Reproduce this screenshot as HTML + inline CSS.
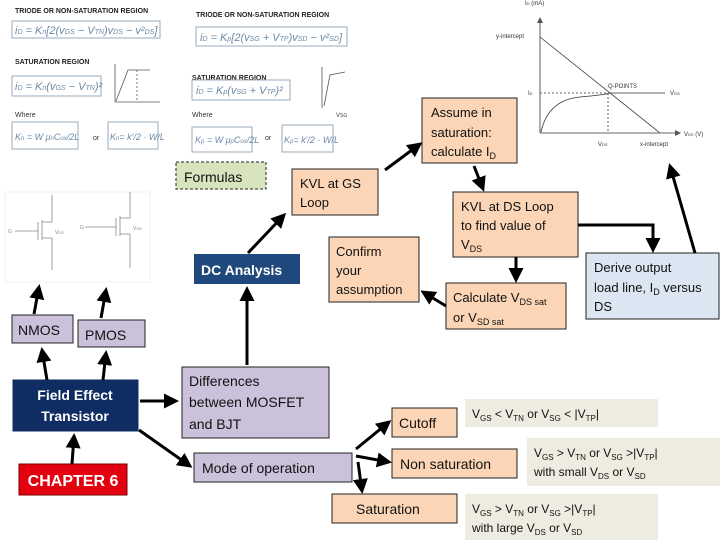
<!DOCTYPE html>
<html><head><meta charset="utf-8"><style>
html,body{margin:0;padding:0;background:#fff}
svg text{font-family:"Liberation Sans",sans-serif}
.c{font-family:"DejaVu Sans","Liberation Sans",sans-serif}
</style></head><body>
<svg width="720" height="540" viewBox="0 0 720 540" xmlns="http://www.w3.org/2000/svg">
<defs>
<marker id="a" markerWidth="5" markerHeight="5" refX="4" refY="2.5" orient="auto" markerUnits="strokeWidth"><path d="M0,0 L5,2.5 L0,5 z" fill="#000"/></marker>
<marker id="s" markerWidth="6" markerHeight="6" refX="5" refY="3" orient="auto" markerUnits="userSpaceOnUse"><path d="M0,0 L6,3 L0,6 z" fill="#555"/></marker>
</defs>
<!-- top-left formula images -->
<g font-size="7" font-weight="bold" fill="#222">
<text x="15" y="13">TRIODE OR NON-SATURATION REGION</text>
<text x="196" y="17">TRIODE OR NON-SATURATION REGION</text>
<text x="15" y="64">SATURATION REGION</text>
<text x="192" y="80">SATURATION REGION</text>
</g>
<g font-size="7" fill="#333"><text x="15" y="117">Where</text><text x="192" y="117">Where</text><text x="93" y="140">or</text><text x="265" y="140">or</text></g>
<g fill="#fff" stroke="#9ab" stroke-width="1">
<rect x="12" y="21" width="148" height="17"/><rect x="196" y="27" width="151" height="19"/>
<rect x="12" y="76" width="89" height="20"/><rect x="192" y="80" width="98" height="20"/>
<rect x="12" y="122" width="66" height="27"/><rect x="108" y="122" width="50" height="27"/>
<rect x="192" y="127" width="60" height="25"/><rect x="282" y="125" width="51" height="27"/>
</g>
<g font-family="Liberation Serif" font-style="italic" fill="#6a8aa8" font-size="11">
<text x="15" y="34">i<tspan font-size="7">D</tspan> = K<tspan font-size="7">n</tspan>[2(v<tspan font-size="7">GS</tspan> − V<tspan font-size="7">TN</tspan>)v<tspan font-size="7">DS</tspan> − v²<tspan font-size="7">DS</tspan>]</text>
<text x="200" y="41">i<tspan font-size="7">D</tspan> = K<tspan font-size="7">p</tspan>[2(v<tspan font-size="7">SG</tspan> + V<tspan font-size="7">TP</tspan>)v<tspan font-size="7">SD</tspan> − v²<tspan font-size="7">SD</tspan>]</text>
<text x="15" y="90">i<tspan font-size="7">D</tspan> = K<tspan font-size="7">n</tspan>(v<tspan font-size="7">GS</tspan> − V<tspan font-size="7">TN</tspan>)²</text>
<text x="196" y="94">i<tspan font-size="7">D</tspan> = K<tspan font-size="7">p</tspan>(v<tspan font-size="7">SG</tspan> + V<tspan font-size="7">TP</tspan>)²</text>
<text x="15" y="140" font-size="9">K<tspan font-size="6">n</tspan> = W μ<tspan font-size="6">n</tspan>C<tspan font-size="6">ox</tspan>/2L</text>
<text x="110" y="140" font-size="9">K<tspan font-size="6">n</tspan>= k'/2 · W/L</text>
<text x="195" y="143" font-size="9">K<tspan font-size="6">p</tspan> = W μ<tspan font-size="6">p</tspan>C<tspan font-size="6">ox</tspan>/2L</text>
<text x="284" y="143" font-size="9">K<tspan font-size="6">p</tspan>= k'/2 · W/L</text>
</g>
<g stroke="#555" fill="none" stroke-width="0.8">
<path d="M115,102 L115,64 M115,102 L160,102 M116,101 L128,70 L150,70"/><path d="M137,70 L137,102" stroke-dasharray="2,2"/>
<path d="M322,108 L322,67 M324,106 L330,75 L345,72"/>
</g>
<text x="336" y="117" font-size="6" fill="#444">V<tspan font-size="5">SG</tspan></text>
<!-- right graph -->
<g stroke="#333" fill="none" stroke-width="0.8">
<line x1="540" y1="133" x2="540" y2="18" marker-end="url(#s)"/>
<line x1="540" y1="133" x2="680" y2="133" marker-end="url(#s)"/>
<line x1="540" y1="37" x2="660" y2="133"/>
<path d="M540,93 L608,93 M608,93 L608,133" stroke-dasharray="2,2"/>
<path d="M541,132 Q548,100 580,97 T608,93 L665,93"/>
</g>
<g font-size="6" fill="#333"><text x="525" y="5">I<tspan font-size="4">D</tspan> (mA)</text><text x="496" y="38">y-intercept</text><text x="528" y="95">I<tspan font-size="4">D</tspan></text><text x="608" y="88">Q-POINTS</text><text x="670" y="95">V<tspan font-size="4">GS</tspan></text><text x="598" y="146">V<tspan font-size="4">DS</tspan></text><text x="640" y="146">x-intercept</text><text x="684" y="136">V<tspan font-size="4">DS</tspan> (V)</text></g>
<!-- MOSFET circuits -->
<g stroke="#888" fill="none" stroke-width="0.8">
<rect x="5" y="192" width="145" height="90" stroke="#eee"/>
<path d="M52,195 L52,222 L42,222 M42,220 L42,240 M38,222 L38,240 M15,231 L38,231 M42,238 L52,238 L52,270"/>
<path d="M130,192 L130,218 L120,218 M120,216 L120,236 M116,218 L116,236 M85,227 L116,227 M120,234 L130,234 L130,268"/>
</g>
<g font-size="5" fill="#888"><text x="8" y="233">G</text><text x="80" y="229">G</text><text x="55" y="234">V<tspan font-size="4">DS</tspan></text><text x="133" y="230">V<tspan font-size="4">SD</tspan></text></g>
<!-- boxes -->
<g font-family="Liberation Sans" stroke="#222" stroke-width="1">
<rect x="422" y="98" width="95" height="65" fill="#fbd5b5"/>
<rect x="176" y="162" width="90" height="27" fill="#d7e4bd" stroke-dasharray="3,2"/>
<rect x="292" y="169" width="86" height="46" fill="#fbd5b5"/>
<rect x="453" y="192" width="125" height="65" fill="#fbd5b5"/>
<rect x="329" y="237" width="90" height="65" fill="#fbd5b5"/>
<rect x="446" y="283" width="120" height="46" fill="#fbd5b5"/>
<rect x="586" y="253" width="133" height="66" fill="#dce6f2"/>
<rect x="194" y="254" width="106" height="30" fill="#1f497d" stroke="none"/>
<rect x="12" y="315" width="61" height="28" fill="#ccc1da"/>
<rect x="78" y="320" width="67" height="27" fill="#ccc1da"/>
<rect x="13" y="380" width="125" height="51" fill="#0f2c63" stroke="#0f2c63"/>
<rect x="19" y="464" width="108" height="31" fill="#e3000f" stroke="#7a0000"/>
<rect x="182" y="367" width="147" height="71" fill="#ccc1da"/>
<rect x="194" y="453" width="158" height="29" fill="#ccc1da"/>
<rect x="392" y="408" width="65" height="29" fill="#fbd5b5"/>
<rect x="392" y="449" width="125" height="29" fill="#fbd5b5"/>
<rect x="332" y="494" width="125" height="29" fill="#fbd5b5"/>
<rect x="465" y="399" width="193" height="28" fill="#eeece1" stroke="none"/>
<rect x="527" y="438" width="193" height="48" fill="#eeece1" stroke="none"/>
<rect x="465" y="494" width="193" height="46" fill="#eeece1" stroke="none"/>
</g>
<g class="c" font-size="13" fill="#111">
<text x="431" y="117">Assume in</text><text x="431" y="137">saturation:</text><text x="431" y="156">calculate I<tspan font-size="9" dy="3">D</tspan></text>
<text x="184" y="182" font-size="14">Formulas</text>
<text x="300" y="188">KVL at GS</text><text x="300" y="207">Loop</text>
<text x="461" y="211">KVL at DS Loop</text><text x="461" y="230">to find value of</text><text x="461" y="249">V<tspan font-size="9" dy="3">DS</tspan></text>
<text x="336" y="256">Confirm</text><text x="336" y="275">your</text><text x="336" y="294">assumption</text>
<text x="453" y="302">Calculate V<tspan font-size="9" dy="3">DS sat</tspan></text><text x="453" y="322">or V<tspan font-size="9" dy="3">SD sat</tspan></text>
<text x="594" y="272">Derive output</text><text x="594" y="292">load line, I<tspan font-size="9" dy="3">D</tspan><tspan dy="-3"> versus</tspan></text><text x="594" y="311">DS</text>
<text x="201" y="275" font-weight="bold" fill="#fff" font-size="14">DC Analysis</text>
<text x="18" y="335" font-size="14">NMOS</text><text x="85" y="340" font-size="14">PMOS</text>
<text x="75" y="400" text-anchor="middle" font-weight="bold" fill="#fff" font-size="14">Field Effect</text>
<text x="75" y="421" text-anchor="middle" font-weight="bold" fill="#fff" font-size="14">Transistor</text>
<text x="73" y="486" text-anchor="middle" font-weight="bold" fill="#fff" font-size="16">CHAPTER 6</text>
<text x="189" y="386" font-size="14">Differences</text><text x="189" y="407" font-size="14">between MOSFET</text><text x="189" y="429" font-size="14">and BJT</text>
<text x="202" y="473" font-size="14">Mode of operation</text>
<text x="399" y="428" font-size="14">Cutoff</text>
<text x="400" y="469" font-size="14">Non saturation</text>
<text x="356" y="514" font-size="14">Saturation</text>
<text x="472" y="418" font-size="12">V<tspan font-size="8" dy="3">GS</tspan><tspan dy="-3"> &lt; V</tspan><tspan font-size="8" dy="3">TN</tspan><tspan dy="-3">  or V</tspan><tspan font-size="8" dy="3">SG</tspan><tspan dy="-3"> &lt; |V</tspan><tspan font-size="8" dy="3">TP</tspan><tspan dy="-3">|</tspan></text>
<text x="534" y="457" font-size="12">V<tspan font-size="8" dy="3">GS</tspan><tspan dy="-3"> &gt; V</tspan><tspan font-size="8" dy="3">TN</tspan><tspan dy="-3">  or V</tspan><tspan font-size="8" dy="3">SG</tspan><tspan dy="-3"> &gt;|V</tspan><tspan font-size="8" dy="3">TP</tspan><tspan dy="-3">|</tspan></text>
<text x="534" y="476" font-size="12">with small V<tspan font-size="8" dy="3">DS</tspan><tspan dy="-3"> or V</tspan><tspan font-size="8" dy="3">SD</tspan></text>
<text x="472" y="513" font-size="12">V<tspan font-size="8" dy="3">GS</tspan><tspan dy="-3"> &gt; V</tspan><tspan font-size="8" dy="3">TN</tspan><tspan dy="-3">  or V</tspan><tspan font-size="8" dy="3">SG</tspan><tspan dy="-3"> &gt;|V</tspan><tspan font-size="8" dy="3">TP</tspan><tspan dy="-3">|</tspan></text>
<text x="472" y="532" font-size="12">with large V<tspan font-size="8" dy="3">DS</tspan><tspan dy="-3"> or V</tspan><tspan font-size="8" dy="3">SD</tspan></text>
</g>
<!-- arrows -->
<g stroke="#000" stroke-width="3" fill="none" marker-end="url(#a)">
<line x1="72" y1="464" x2="74" y2="436"/>
<line x1="47" y1="380" x2="42" y2="350"/>
<line x1="103" y1="380" x2="106" y2="353"/>
<line x1="34" y1="314" x2="39" y2="287"/>
<line x1="101" y1="318" x2="106" y2="290"/>
<line x1="140" y1="401" x2="176" y2="401"/>
<line x1="139" y1="430" x2="190" y2="466"/>
<line x1="247" y1="365" x2="247" y2="289"/>
<line x1="248" y1="253" x2="284" y2="215"/>
<line x1="385" y1="170" x2="420" y2="144"/>
<line x1="474" y1="166" x2="483" y2="189"/>
<line x1="516" y1="257" x2="516" y2="280"/>
<polyline points="578,225 653,225 653,250"/>
<line x1="695" y1="253" x2="670" y2="166"/>
<line x1="446" y1="306" x2="423" y2="292"/>
<line x1="356" y1="449" x2="389" y2="422"/>
<line x1="356" y1="456" x2="389" y2="462"/>
<line x1="358" y1="462" x2="362" y2="491"/>
</g>
</svg>
</body></html>
